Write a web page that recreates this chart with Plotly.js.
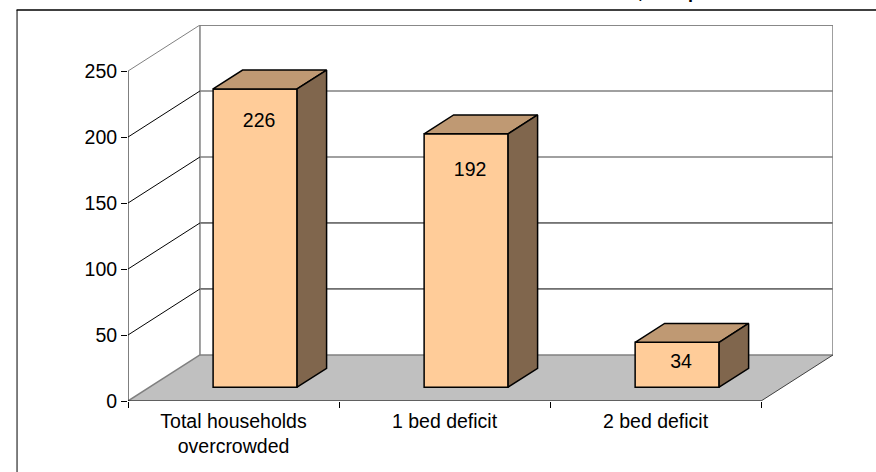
<!DOCTYPE html>
<html><head><meta charset="utf-8">
<script src="https://cdn.plot.ly/plotly-3.0.1.min.js"></script>
<style>html,body{margin:0;padding:0;background:#fff;overflow:hidden}</style>
</head><body><div id="chart" style="width:876px;height:472px"></div>
<script>
const categories = ["Total households<br>overcrowded", "1 bed deficit", "2 bed deficit"];
const values = [226, 192, 34];
const yTicks = [0, 50, 100, 150, 200, 250];
const labelDrop = [14.5, 17.5, 5];
const gridColors = ["#808080", "#000000", "#000000", "#808080", "#808080", "#808080"];
const sideColors = ["#808080", "#000000", "#000000", "#000000", "#000000", "#808080"];

const FONT = "Liberation Sans, Arial, sans-serif";
const FS = 19.5;
const kx = 0.341, ky = 34.9;          // oblique projection of one unit of depth
const barW = 0.398, d0 = 0.3, d1 = 0.71;
const W = 876, H = 472;
const m = {l:127.5, r:43.3, t:25, b:71.3};
const catN = categories.length, yMax = yTicks[yTicks.length-1];
const P = (c, v, d) => [c + d*kx, v + d*ky];

function poly(pts, fill, color, width){
  const xs = pts.map(p=>p[0]), ys = pts.map(p=>p[1]);
  const t = {type:"scatter", mode:"lines", x:xs, y:ys, cliponaxis:false, hoverinfo:"skip", showlegend:false,
             line:{color:color, width:width}};
  if(fill){ t.fill="toself"; t.fillcolor=fill; }
  return t;
}

const shapes = [];
const path = pts => "M" + pts.map(p=>p[0]+","+p[1]).join("L") + "Z";
// floor
shapes.push({type:"path", layer:"below", xref:"x", yref:"y",
  path:path([P(0,0,0),P(catN,0,0),P(catN,0,1),P(0,0,1)]), fillcolor:"#C0C0C0", line:{width:0}});
// back-wall gridlines
yTicks.forEach((v,i)=>{
  const a=P(0,v,1), b=P(catN,v,1);
  shapes.push({type:"line", layer:"below", xref:"x", yref:"y", x0:a[0], y0:a[1], x1:b[0], y1:b[1],
    line:{color:gridColors[i], width: gridColors[i]==="#000000"?1:1.5}});
});
// page frame: top rule and left rule, in paper fractions derived from pixels
const px = x => (x-m.l)/(W-m.l-m.r), py = y => 1-(y-m.t)/(H-m.t-m.b);
shapes.push({type:"line", xref:"paper", yref:"paper", x0:px(16), x1:px(W), y0:py(10), y1:py(10), line:{color:"#404040", width:2}});
shapes.push({type:"line", xref:"paper", yref:"paper", x0:px(16.5), x1:px(16.5), y0:py(10), y1:py(H), line:{color:"#000", width:1}});

const traces = [];
// front faces
const centers = values.map((_,i)=>i+0.5+d0*kx);
const base = d0*ky;
traces.push({type:"bar", x:centers, y:values, base:values.map(()=>base), width:values.map(()=>barW),
  marker:{color:"#FFCC99", line:{color:"#000", width:1.5}}, hoverinfo:"skip", showlegend:false});
// walls and edges
traces.push(poly([P(0,0,1),P(0,yMax,1),P(catN,yMax,1),P(catN,0,1)], null, "#808080", 1.5));
traces.push(poly([P(0,0,0),P(0,0,1)], null, "#808080", 1.5));
traces.push(poly([P(catN,0,0),P(catN,0,1)], null, "#404040", 1));
yTicks.filter(v=>v>0).forEach(v=>{
  const i=yTicks.indexOf(v);
  traces.push(poly([P(0,v,0),P(0,v,1)], null, sideColors[i], 1));
});
traces.push(poly([P(0,0,0),P(0,yMax,0)], null, "#000", 1));
traces.push(poly([P(0,0,0),P(catN,0,0)], null, "#000", 1));
// top and side faces
values.forEach((v,i)=>{
  const l=i+0.5-barW/2, r=i+0.5+barW/2;
  traces.push(poly([P(l,v,d0),P(r,v,d0),P(r,v,d1),P(l,v,d1),P(l,v,d0)], "#BF9973", "#000", 1.5));
  traces.push(poly([P(r,0,d0),P(r,v,d0),P(r,v,d1),P(r,0,d1),P(r,0,d0)], "#80664D", "#000", 1.5));
});
// value labels
traces.push({type:"scatter", mode:"text", x:values.map((_,i)=>i+0.5+d0*kx+0.019), y:values.map((v,i)=>v-labelDrop[i]),
  text:values.map(String), textposition:"middle center", textfont:{family:FONT,size:FS,color:"#000"},
  cliponaxis:false, hoverinfo:"skip", showlegend:false});

const layout = {
  width:W, height:H, margin:m, paper_bgcolor:"#fff", plot_bgcolor:"#fff", showlegend:false, bargap:0,
  font:{family:FONT,size:FS,color:"#000"},
  xaxis:{range:[0,catN+kx], tickmode:"array", tickvals:categories.map((_,i)=>i+0.5), ticktext:categories,
    ticks:"", showgrid:false, zeroline:false, showline:false, tickangle:0, automargin:false, ticklabelstandoff:6,
    tickfont:{family:FONT,size:FS,color:"#000"},
    minor:{tickmode:"array", tickvals:categories.map((_,i)=>i).concat([catN]), ticks:"outside", ticklen:6, tickwidth:1, tickcolor:"#000", showgrid:false}},
  yaxis:{range:[0,yMax+ky], tickmode:"array", tickvals:yTicks, ticktext:yTicks.map(String), ticks:"outside", ticklen:6, tickwidth:1, tickcolor:"#000",
    showgrid:false, zeroline:false, showline:false, automargin:false, tickfont:{family:FONT,size:FS,color:"#000"}},
  shapes:shapes,
  annotations:[{xref:"paper", yref:"paper", x:px(636), y:py(0), xanchor:"left", yanchor:"bottom", yshift:-4, showarrow:false,
    text:"<b>,         p</b>", font:{family:FONT,size:18,color:"#000"}}]
};
Plotly.newPlot("chart", traces, layout, {staticPlot:true, displayModeBar:false});
</script></body></html>
